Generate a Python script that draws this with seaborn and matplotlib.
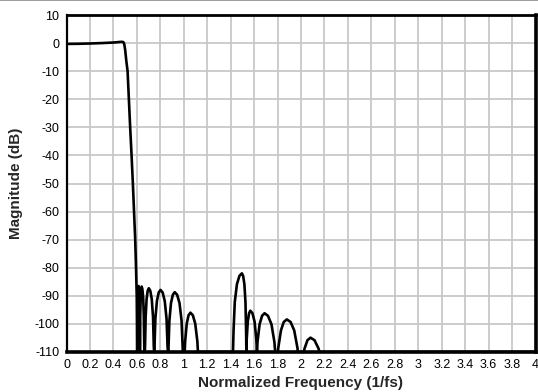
import matplotlib
matplotlib.use("Agg")
import matplotlib.pyplot as plt
from matplotlib.lines import Line2D
import seaborn as sns
import pandas as pd

# ---------------- data ----------------
passband_f = [0.0, 0.1, 0.2, 0.3, 0.4, 0.45, 0.47, 0.482, 0.489, 0.494, 0.5, 0.51]
passband_db = [-0.3, -0.25, -0.15, 0.0, 0.2, 0.4, 0.45, 0.4, 0.1, -0.7, -2.3, -6.3]

transition_f = [0.521, 0.532, 0.543, 0.555, 0.566, 0.576, 0.586, 0.593, 0.599, 0.601, 0.602]
transition_db = [-10.0, -20.0, -30.0, -40.0, -50.0, -60.0, -70.0, -80.0, -90.0, -100.0, -110.0]

near_lobes_f = [
    0.606, 0.6066, 0.6078, 0.610, 0.6125, 0.615, 0.618, 0.621, 0.6238, 0.6253, 0.626,
    0.627, 0.629, 0.633, 0.637, 0.641, 0.647, 0.654, 0.659, 0.663, 0.664,
    0.668, 0.670, 0.675, 0.683, 0.6925, 0.702, 0.7146, 0.7272, 0.738, 0.7443, 0.747,
    0.748, 0.7503, 0.758, 0.7712, 0.7866, 0.802, 0.8199, 0.8378, 0.8532, 0.8622, 0.866,
    0.867, 0.8694, 0.8774, 0.8911, 0.907, 0.923, 0.9434, 0.9639, 0.9814, 0.9916, 0.996,
    1.008, 1.012, 1.0255, 1.041, 1.057, 1.0775, 1.098, 1.116, 1.121,
]
near_lobes_db = [
    -110, -107.0, -96.7, -90.4, -87.4, -86.5, -87.4, -90.4, -96.7, -107.0, -110,
    -107.2, -96.9, -90.6, -87.6, -86.7, -87.6, -90.6, -96.9, -107.2, -110,
    -110, -107.8, -97.5, -91.2, -88.2, -87.3, -88.2, -91.2, -97.5, -107.8, -110,
    -110, -108.4, -98.1, -91.8, -88.8, -87.9, -88.8, -91.8, -98.1, -108.4, -110,
    -110, -109.2, -98.9, -92.6, -89.6, -88.7, -89.6, -92.6, -98.9, -109.2, -110,
    -110, -106.2, -99.9, -96.9, -96.0, -96.9, -99.9, -106.2, -110,
]

far_lobes_f = [
    1.42, 1.4246, 1.4352, 1.4534, 1.4747, 1.496, 1.5066, 1.5173, 1.5264, 1.5317, 1.534,
    1.535, 1.537, 1.546, 1.557, 1.568, 1.586, 1.604, 1.619, 1.624,
    1.625, 1.629, 1.647, 1.668, 1.689, 1.718, 1.748, 1.773, 1.780,
    1.803, 1.806, 1.829, 1.853, 1.879, 1.911, 1.942, 1.970, 1.973,
    2.024, 2.030, 2.055, 2.081, 2.115, 2.150, 2.157,
    4.0,
]
far_lobes_db = [
    -110, -102.5, -92.2, -85.9, -82.9, -82.0, -82.9, -85.9, -92.2, -102.5, -110,
    -110, -105.5, -99.2, -96.2, -95.3, -96.2, -99.2, -105.5, -110,
    -110, -106.4, -100.1, -97.1, -96.2, -97.1, -100.1, -106.4, -110,
    -110, -108.6, -102.3, -99.3, -98.4, -99.3, -102.3, -108.6, -110,
    -110, -108.8, -105.8, -104.9, -105.8, -108.8, -110,
    -110,
]

x_ticks = [0, 0.2, 0.4, 0.6, 0.8, 1.0, 1.2, 1.4, 1.6, 1.8, 2.0, 2.2, 2.4, 2.6, 2.8,
           3.0, 3.2, 3.4, 3.6, 3.8, 4.0]
x_tick_labels = ["0", "0.2", "0.4", "0.6", "0.8", "1", "1.2", "1.4", "1.6", "1.8", "2",
                 "2.2", "2.4", "2.6", "2.8", "3", "3.2", "3.4", "3.6", "3.8", "4"]
y_ticks = [10, 0, -10, -20, -30, -40, -50, -60, -70, -80, -90, -100, -110]

# ---------------- plotting ----------------
sns.set_style("white")
plt.rcParams["font.family"] = ["Liberation Sans", "DejaVu Sans"]

freq = passband_f + transition_f + near_lobes_f + far_lobes_f
mag = passband_db + transition_db + near_lobes_db + far_lobes_db
df = pd.DataFrame({"f": freq, "db": mag})

fig = plt.figure(figsize=(5.38, 3.92), dpi=100)
ax = fig.add_axes([66.5 / 538, 1 - 352 / 392, (535.5 - 66.5) / 538, (352 - 15) / 392])

sns.lineplot(data=df, x="f", y="db", sort=False, estimator=None, color="black",
             linewidth=1.9, ax=ax, zorder=3)

ax.set_xlim(0, 4)
ax.set_ylim(-110, 10)
ax.set_xticks(x_ticks)
ax.set_xticklabels(x_tick_labels)
ax.set_yticks(y_ticks)
ax.set_yticklabels([str(v) for v in y_ticks])
ax.grid(True, color="#c8c8c8", linewidth=1.3)
ax.set_axisbelow(True)
ax.tick_params(axis="both", length=0, labelsize=9, colors="black")
ax.tick_params(axis="x", pad=5)
ax.tick_params(axis="y", pad=5)

ax.set_xlabel("Normalized Frequency (1/fs)", fontsize=11, fontweight="bold")
ax.set_ylabel("Magnitude (dB)", fontsize=11, fontweight="bold")
ax.xaxis.set_label_coords(0.5, -0.07)
ax.yaxis.set_label_coords(-0.092, 0.5)

for side, lw in {"left": 1.6, "top": 2.0, "right": 2.6, "bottom": 2.6}.items():
    ax.spines[side].set_visible(True)
    ax.spines[side].set_color("black")
    ax.spines[side].set_linewidth(lw)
    ax.spines[side].set_zorder(5)

fig.add_artist(Line2D([0, 1], [0.999, 0.999], transform=fig.transFigure,
                      color="#8a8a8a", linewidth=1.2))

fig.savefig("out.png", dpi=100)
